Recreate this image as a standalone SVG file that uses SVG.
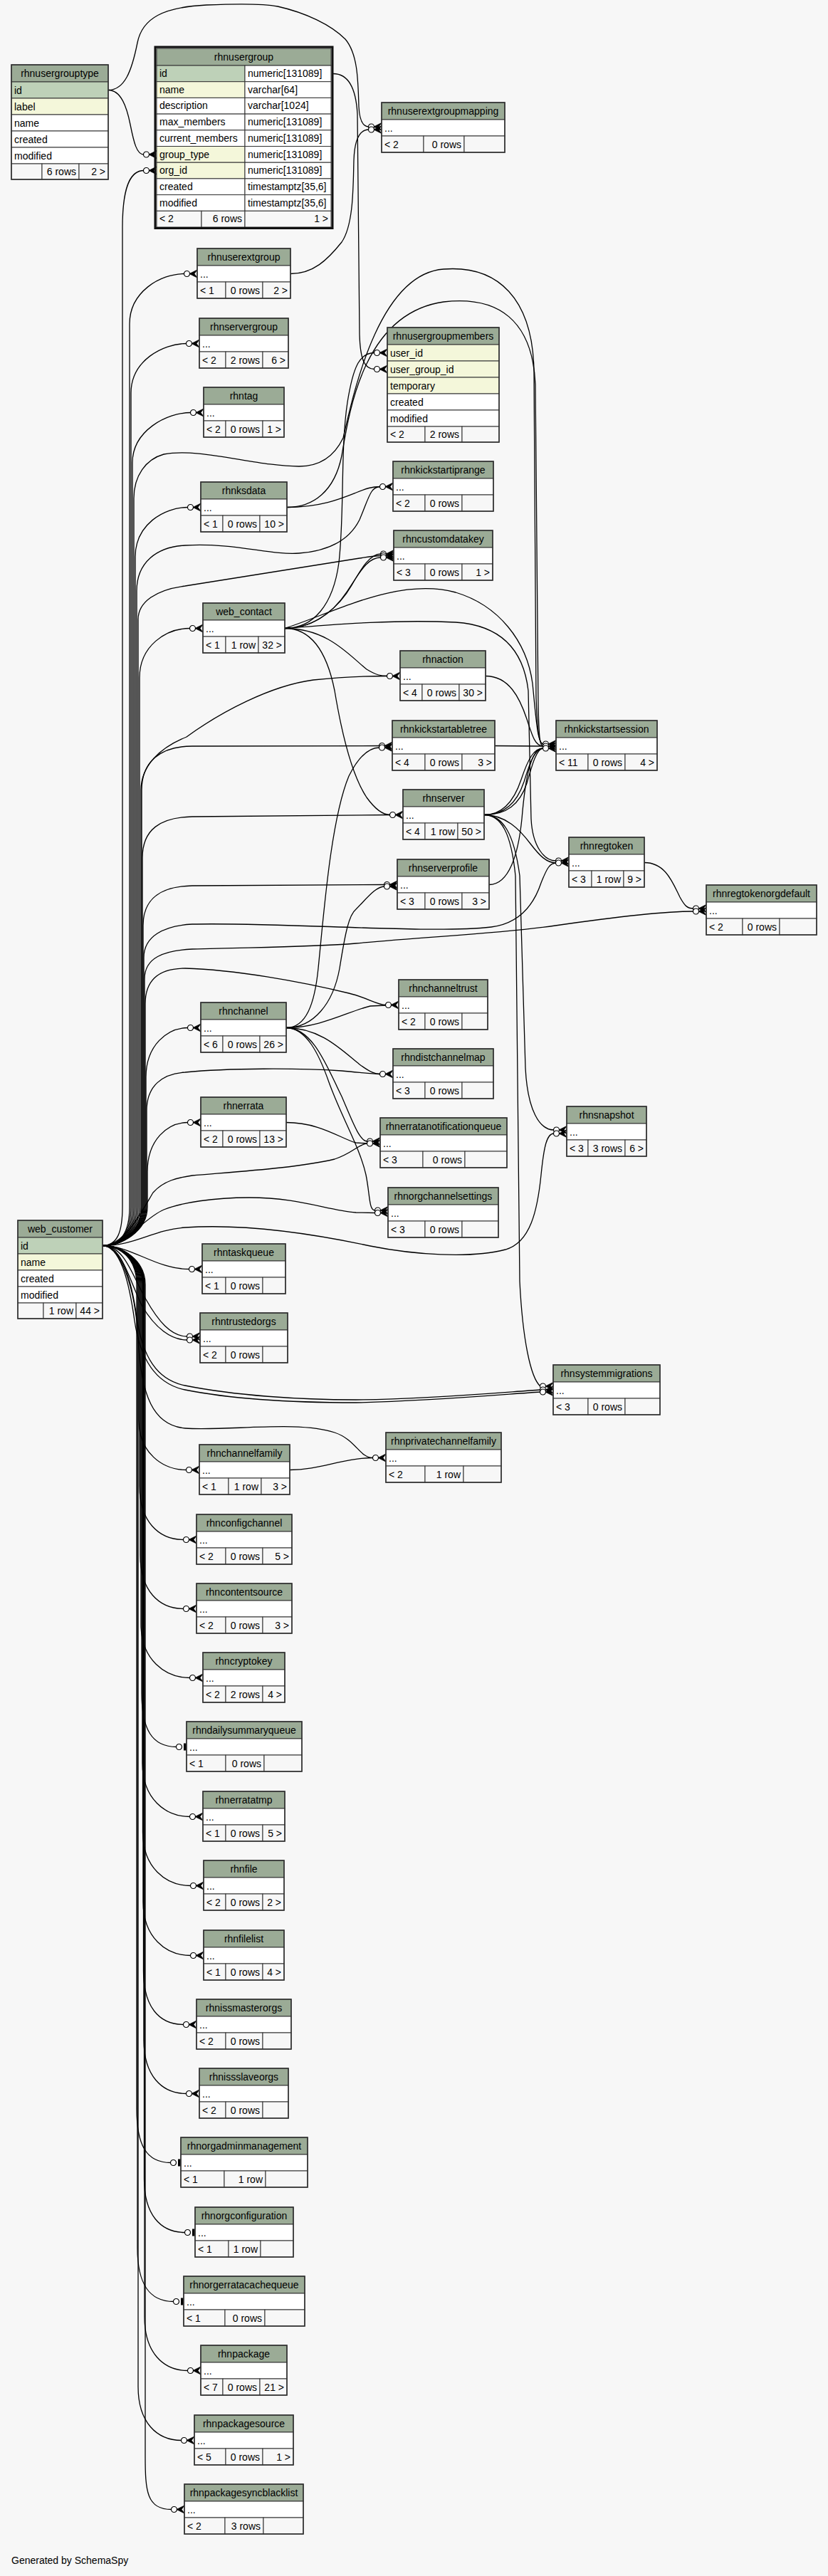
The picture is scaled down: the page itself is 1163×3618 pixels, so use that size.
<svg xmlns="http://www.w3.org/2000/svg" width="1163" height="3618" viewBox="0 0 1163 3618">
<style>
.h{fill:#9bab96;stroke:#333}
.p{fill:#bed1b8;stroke:#333}
.i{fill:#f4f7da;stroke:#333}
.w{fill:#fff;stroke:#333}
.f{fill:#f7f7f7;stroke:#333}
.o{fill:none;stroke:#333;stroke-width:1.6}
text{font-family:"Liberation Sans",Arial,Helvetica,sans-serif;font-size:14px;fill:#000}
.c{text-anchor:middle}
.r{text-anchor:end}
#edges path{fill:none;stroke:#000;stroke-width:1.3}
</style>
<defs>
<g id="m"><path d="M-11,0 L0,-5.5 L-4,0 L0,5.5 Z" fill="#000" stroke="#000" stroke-width="0.8"/><circle cx="-14.5" cy="0" r="4" fill="#fff" stroke="#000" stroke-width="1.2"/></g>
<g id="t"><rect x="-4" y="-5" width="3.5" height="10" fill="#000"/><circle cx="-10.5" cy="0" r="4" fill="#fff" stroke="#000" stroke-width="1.2"/></g>
</defs>
<rect x="0" y="0" width="1163" height="3618" fill="#f7f7f7"/>
<g id="edges">
<path d="M152,126.5 C170,126.5 178,150 183,175 C188,200 192,217 202,217"/>
<path d="M152,126.5 C175,126.5 185,100 193,60 C200,25 230,10 290,7 C340,5 370,5 390,9 C430,18 465,35 485,55 C502,75 503,110 504,150 C505,170 510,178 518,178"/>
<path d="M408,384.5 C440,384.5 460,365 480,340 C497,315 496,260 497,225 C498,195 505,182 518,182"/>
<path d="M468,103.5 C490,103.5 500,125 502,160 L505,470 C506,505 512,518.5 526,518.5"/>
<path d="M400,882.5 C440,882.5 468,850 476,790 C484,720 478,630 488,565 C496,515 505,495.5 526,495.5"/>
<path d="M400,882.5 C440,882.5 468,860 488,830 C505,805 515,783 535,783"/>
<path d="M400,882.5 C445,882.5 478,850 494,822 C508,797 520,778 535,778"/>
<path d="M400,882.5 C470,860 560,810 640,832 C700,850 740,900 748,960 C753,1010 755,1045 763,1045"/>
<path d="M400,882.5 C480,876 560,870 640,874 C700,878 735,910 742,970 L746,1150 C748,1190 765,1209 781,1209"/>
<path d="M400,882.5 C460,882.5 490,920 515,940 C528,948 535,949.5 544,949.5"/>
<path d="M400,882.5 C440,882.5 460,920 470,970 C480,1030 495,1090 515,1120 C528,1138 538,1144.5 548,1144.5"/>
<path d="M403,712.5 C450,712.5 480,700 500,692 C515,686 522,683.5 534,683.5"/>
<path d="M403,712.5 C440,712.5 470,690 480,640 C490,580 510,440 623,424 C700,415 748,450 752,540 L756,990 C757,1035 758,1048 763,1048"/>
<path d="M682,949.5 C715,949.5 730,980 740,1010 C748,1035 752,1048 763,1048"/>
<path d="M695,1047.5 L763,1048"/>
<path d="M680,1144.5 C705,1144.5 722,1125 732,1095 C742,1065 750,1051 763,1051"/>
<path d="M680,1144.5 C708,1144.5 726,1128 736,1098 C745,1068 752,1051 763,1051"/>
<path d="M680,1144.5 C711,1144.5 730,1130 740,1100 C748,1072 754,1051 763,1051"/>
<path d="M687,1242.5 C715,1242.5 728,1200 733,1150 C738,1090 746,1051 763,1051"/>
<path d="M680,1144.5 C710,1144.5 730,1165 745,1185 C758,1202 768,1212 781,1212"/>
<path d="M680,1144.5 C706,1144.5 722,1170 730,1230 L738,1500 C741,1560 758,1587 778,1587"/>
<path d="M680,1144.5 C704,1144.5 718,1170 724,1230 L730,1800 C734,1880 745,1935 759,1947"/>
<path d="M905,1211.5 C935,1211.5 945,1240 955,1260 C962,1273 966,1276 974,1276"/>
<path d="M402,1443.5 C450,1443.5 490,1420 520,1413 L542,1412"/>
<path d="M402,1443.5 C450,1443.5 480,1475 505,1495 C520,1506 527,1508.5 534,1508.5"/>
<path d="M402,1443.5 C440,1443.5 460,1500 480,1540 C495,1575 505,1603 516,1603"/>
<path d="M402,1443.5 C430,1443.5 448,1480 462,1520 C480,1570 505,1610 514,1650 C520,1680 518,1700 527,1700"/>
<path d="M402,1443.5 C430,1443.5 442,1410 447,1360 C455,1280 465,1150 490,1090 C505,1060 520,1050 533,1050"/>
<path d="M402,1443.5 C440,1443.5 468,1410 477,1360 C485,1310 490,1285 500,1277 C515,1262 528,1245 540,1245"/>
<path d="M402,1576.5 C450,1576.5 480,1600 500,1605 L516,1606"/>
<path d="M407,2064.5 C450,2064.5 480,2048 524,2047.5"/>
<path d="M144,1749.5 C165,1749.5 172,1730 172,1695 L172,320 C172,270 180,239.5 202,239.5"/>
<path d="M144,1749.5 C170,1749.5 182,1730 182,1695 L182,455 C182,410 225,384.5 259,384.5"/>
<path d="M144,1749.5 C170,1749.5 184,1730 184,1695 L184,552 C184,507 228,482.5 262,482.5"/>
<path d="M144,1749.5 C170,1749.5 186,1730 186,1695 L186,650 C186,605 234,579.5 268,579.5"/>
<path d="M144,1749.5 C170,1749.5 188,1730 188,1695 L188,700 C188,668 205,645 230,638 C280,628 360,655 420,655 C450,655 470,640 482,615 C495,560 530,385 623,378 C700,372 748,420 750,520 L753,980 C755,1030 757,1045 763,1045"/>
<path d="M144,1749.5 C170,1749.5 190,1730 190,1695 L190,782 C190,737 230,712.5 264,712.5"/>
<path d="M144,1749.5 C170,1749.5 192,1730 192,1695 L192,830 C192,790 220,768 260,766 C330,762 380,780 420,777 C460,774 490,760 505,730 C518,700 520,683.5 534,683.5"/>
<path d="M144,1749.5 C170,1749.5 194,1730 194,1695 L194,870 C194,845 220,828 260,823 L505,784 C518,782 526,780.5 535,780.5"/>
<path d="M144,1749.5 C170,1749.5 196,1730 196,1695 L196,952 C196,907 233,882.5 267,882.5"/>
<path d="M144,1749.5 C170,1749.5 198,1730 198,1695 L198,1110 C198,1075 225,1050 262,1035 C310,1000 380,963 440,955 C490,950 520,949.5 544,949.5"/>
<path d="M144,1749.5 C170,1749.5 199,1730 199,1695 L199,1110 C199,1070 225,1048 270,1048 L533,1047.5"/>
<path d="M144,1749.5 C170,1749.5 200,1730 200,1695 L200,1205 C200,1165 225,1148 270,1147 L548,1144.5"/>
<path d="M144,1749.5 C170,1749.5 201,1730 201,1695 L201,1300 C201,1262 225,1245 270,1244 L540,1242.5"/>
<path d="M144,1749.5 C170,1749.5 202,1730 202,1695 L202,1345 C202,1315 230,1300 270,1298 C400,1295 600,1312 690,1302 C730,1297 750,1270 760,1240 C768,1220 772,1212 781,1212"/>
<path d="M144,1749.5 C170,1749.5 203,1730 203,1695 L203,1375 C203,1345 230,1335 270,1333 C380,1330 440,1330 500,1325 C600,1315 700,1312 780,1300 C870,1287 930,1280 974,1280"/>
<path d="M144,1749.5 C170,1749.5 204,1730 204,1695 L204,1410 C204,1375 225,1360 260,1360 C330,1362 420,1378 490,1395 C515,1401 530,1411.5 542,1411.5"/>
<path d="M144,1749.5 C170,1749.5 205,1730 205,1695 L205,1513 C205,1468 235,1443.5 264,1443.5"/>
<path d="M144,1749.5 C170,1749.5 206,1730 206,1695 L206,1560 C206,1525 228,1508 260,1506 C320,1500 420,1500 480,1504 C505,1506 520,1508.5 534,1508.5"/>
<path d="M144,1749.5 C170,1749.5 207,1730 207,1695 L207,1646 C207,1601 235,1576.5 264,1576.5"/>
<path d="M144,1749.5 C175,1749.5 200,1700 215,1675 C230,1658 250,1654 270,1651 C340,1645 420,1640 470,1628 C495,1620 505,1606 516,1606"/>
<path d="M144,1749.5 C178,1749.5 200,1712 230,1699 C255,1689 300,1682 350,1682 C420,1682 460,1700 500,1703 L527,1703.5"/>
<path d="M144,1749.5 C190,1749.5 215,1727 260,1724 C350,1718 450,1735 520,1750 C580,1762 660,1768 710,1755 C745,1745 755,1700 760,1650 C764,1610 768,1592 778,1592"/>
<path d="M144,1749.5 C185,1749.5 218,1782.5 266,1782.5"/>
<path d="M144,1749.5 C175,1749.5 185,1790 205,1825 C222,1855 240,1877 263,1877"/>
<path d="M144,1749.5 C172,1749.5 182,1800 200,1835 C218,1865 240,1882 263,1882"/>
<path d="M144,1749.5 C172,1749.5 185,1800 192,1850 C200,1905 220,1938 260,1946 C330,1960 420,1966 500,1966 C600,1965 700,1956 759,1952"/>
<path d="M144,1749.5 C170,1749.5 182,1805 189,1855 C197,1910 220,1944 260,1952 C330,1966 420,1970 500,1970 C600,1968 700,1959 759,1955"/>
<path d="M144,1749.5 C170,1749.5 190,1810 194,1880 C198,1960 215,2002 260,2006 C320,2010 420,1995 470,2012 C500,2022 505,2047.5 524,2047.5"/>
<path d="M144,1749.5 C170,1749.5 195,1769 195,1804 L195,1995 C195,2040 228,2064.5 262,2064.5"/>
<path d="M144,1749.5 C170,1749.5 196,1769 196,1804 L196,2087 C196,2137 223,2162.5 258,2162.5"/>
<path d="M144,1749.5 C170,1749.5 197,1769 197,1804 L197,2184 C197,2234 223,2259.5 258,2259.5"/>
<path d="M144,1749.5 C170,1749.5 198,1769 198,1804 L198,2281 C198,2331 232,2356.5 267,2356.5"/>
<path d="M144,1749.5 C170,1749.5 199,1769 199,1804 L199,2378 C199,2428 213,2453.5 248,2453.5"/>
<path d="M144,1749.5 C170,1749.5 200,1769 200,1804 L200,2476 C200,2526 232,2551.5 267,2551.5"/>
<path d="M144,1749.5 C170,1749.5 200.5,1769 200.5,1804 L200.5,2573 C200.5,2623 233,2648.5 268,2648.5"/>
<path d="M144,1749.5 C170,1749.5 201,1769 201,1804 L201,2671 C201,2721 233,2746.5 268,2746.5"/>
<path d="M144,1749.5 C170,1749.5 201.5,1769 201.5,1804 L201.5,2768 C201.5,2818 223,2843.5 258,2843.5"/>
<path d="M144,1749.5 C170,1749.5 202,1769 202,1804 L202,2865 C202,2915 227,2940.5 262,2940.5"/>
<path d="M144,1749.5 C170,1749.5 192,1769 192,1804 L192,2962 C192,3012 205,3037.5 240,3037.5"/>
<path d="M144,1749.5 C170,1749.5 202.5,1769 202.5,1804 L202.5,3060 C202.5,3110 225,3135.5 260,3135.5"/>
<path d="M144,1749.5 C170,1749.5 193,1769 193,1804 L193,3157 C193,3207 209,3232.5 244,3232.5"/>
<path d="M144,1749.5 C170,1749.5 203,1769 203,1804 L203,3254 C203,3304 229,3329.5 264,3329.5"/>
<path d="M144,1749.5 C170,1749.5 194,1769 194,1804 L194,3352 C194,3402 220,3427.5 255,3427.5"/>
<path d="M144,1749.5 C170,1749.5 204,1769 204,1804 L204,3449 C204,3499 206,3524.5 241,3524.5"/>
<use href="#m" x="536" y="178"/><use href="#m" x="536" y="182"/>
<use href="#m" x="220" y="217"/><use href="#m" x="220" y="239.5"/>
<use href="#m" x="544" y="495.5"/><use href="#m" x="544" y="518.5"/>
<use href="#m" x="277" y="384.5"/><use href="#m" x="280" y="482.5"/><use href="#m" x="286" y="579.5"/><use href="#m" x="282" y="712.5"/><use href="#m" x="285" y="882.5"/>
<use href="#m" x="552" y="683.5"/>
<use href="#m" x="553" y="778"/><use href="#m" x="553" y="780.5"/><use href="#m" x="553" y="783"/>
<use href="#m" x="562" y="949.5"/>
<use href="#m" x="551" y="1047.5"/><use href="#m" x="551" y="1050"/>
<use href="#m" x="781" y="1045"/><use href="#m" x="781" y="1048"/><use href="#m" x="781" y="1051"/>
<use href="#m" x="566" y="1144.5"/>
<use href="#m" x="558" y="1242.5"/><use href="#m" x="558" y="1245"/>
<use href="#m" x="799" y="1209"/><use href="#m" x="799" y="1212"/>
<use href="#m" x="992" y="1276"/><use href="#m" x="992" y="1280"/>
<use href="#m" x="560" y="1411.5"/>
<use href="#m" x="282" y="1443.5"/>
<use href="#m" x="552" y="1508.5"/>
<use href="#m" x="282" y="1576.5"/>
<use href="#m" x="534" y="1603"/><use href="#m" x="534" y="1606"/>
<use href="#m" x="796" y="1587"/><use href="#m" x="796" y="1592"/>
<use href="#m" x="545" y="1700"/><use href="#m" x="545" y="1703.5"/>
<use href="#m" x="284" y="1782.5"/>
<use href="#m" x="281" y="1877"/><use href="#m" x="281" y="1882"/>
<use href="#m" x="777" y="1947"/><use href="#m" x="777" y="1952"/><use href="#m" x="777" y="1955"/>
<use href="#m" x="542" y="2047.5"/>
<use href="#m" x="280" y="2064.5"/>
<use href="#m" x="276" y="2162.5"/>
<use href="#m" x="276" y="2259.5"/>
<use href="#m" x="285" y="2356.5"/>
<use href="#t" x="262" y="2453.5"/>
<use href="#m" x="285" y="2551.5"/>
<use href="#m" x="286" y="2648.5"/>
<use href="#m" x="286" y="2746.5"/>
<use href="#m" x="276" y="2843.5"/>
<use href="#m" x="280" y="2940.5"/>
<use href="#t" x="254" y="3037.5"/>
<use href="#t" x="274" y="3135.5"/>
<use href="#t" x="258" y="3232.5"/>
<use href="#m" x="282" y="3329.5"/>
<use href="#m" x="273" y="3427.5"/>
<use href="#m" x="259" y="3524.5"/>
</g>

<g id="rhnusergrouptype">
<rect class="h" x="16" y="91" width="136" height="24"/><text class="c" x="84" y="107.5">rhnusergrouptype</text>
<rect class="p" x="16" y="115" width="136" height="23"/><text x="20" y="131.5">id</text>
<rect class="i" x="16" y="138" width="136" height="23"/><text x="20" y="154.5">label</text>
<rect class="w" x="16" y="161" width="136" height="23"/><text x="20" y="177.5">name</text>
<rect class="w" x="16" y="184" width="136" height="23"/><text x="20" y="200.5">created</text>
<rect class="w" x="16" y="207" width="136" height="23"/><text x="20" y="223.5">modified</text>
<rect class="f" x="16" y="230" width="43" height="22"/><rect class="f" x="59" y="230" width="52" height="22"/><rect class="f" x="111" y="230" width="41" height="22"/>
<text class="r" x="107" y="246">6 rows</text><text class="r" x="148" y="246">2 &gt;</text>
<rect class="o" x="16" y="91" width="136" height="161"/>
</g>

<g id="rhnusergroup">
<rect class="h" x="220" y="68" width="245" height="24"/><text class="c" x="342.5" y="84.5">rhnusergroup</text>
<rect class="p" x="220" y="92" width="124" height="22.7"/><rect class="w" x="344" y="92" width="121" height="22.7"/>
<text x="224" y="108">id</text><text x="348" y="108">numeric[131089]</text>
<rect class="i" x="220" y="114.7" width="124" height="22.7"/><rect class="w" x="344" y="114.7" width="121" height="22.7"/>
<text x="224" y="130.7">name</text><text x="348" y="130.7">varchar[64]</text>
<rect class="w" x="220" y="137.4" width="124" height="22.7"/><rect class="w" x="344" y="137.4" width="121" height="22.7"/>
<text x="224" y="153.4">description</text><text x="348" y="153.4">varchar[1024]</text>
<rect class="w" x="220" y="160.1" width="124" height="22.7"/><rect class="w" x="344" y="160.1" width="121" height="22.7"/>
<text x="224" y="176.1">max_members</text><text x="348" y="176.1">numeric[131089]</text>
<rect class="w" x="220" y="182.8" width="124" height="22.7"/><rect class="w" x="344" y="182.8" width="121" height="22.7"/>
<text x="224" y="198.8">current_members</text><text x="348" y="198.8">numeric[131089]</text>
<rect class="i" x="220" y="205.5" width="124" height="22.7"/><rect class="w" x="344" y="205.5" width="121" height="22.7"/>
<text x="224" y="221.5">group_type</text><text x="348" y="221.5">numeric[131089]</text>
<rect class="i" x="220" y="228.2" width="124" height="22.7"/><rect class="w" x="344" y="228.2" width="121" height="22.7"/>
<text x="224" y="244.2">org_id</text><text x="348" y="244.2">numeric[131089]</text>
<rect class="w" x="220" y="250.9" width="124" height="22.7"/><rect class="w" x="344" y="250.9" width="121" height="22.7"/>
<text x="224" y="266.9">created</text><text x="348" y="266.9">timestamptz[35,6]</text>
<rect class="w" x="220" y="273.6" width="124" height="22.7"/><rect class="w" x="344" y="273.6" width="121" height="22.7"/>
<text x="224" y="289.6">modified</text><text x="348" y="289.6">timestamptz[35,6]</text>
<rect class="f" x="220" y="296.3" width="63" height="22.7"/><rect class="f" x="283" y="296.3" width="61" height="22.7"/><rect class="f" x="344" y="296.3" width="121" height="22.7"/>
<text x="224" y="312.3">&lt; 2</text><text class="r" x="340" y="312.3">6 rows</text><text class="r" x="461" y="312.3">1 &gt;</text>
<rect x="218" y="66" width="249" height="254.5" fill="none" stroke="#111" stroke-width="3"/>
</g>

<g id="rhnusergroupmembers">
<rect class="h" x="544" y="460" width="157" height="24"/><text class="c" x="622.5" y="476.5">rhnusergroupmembers</text>
<rect class="i" x="544" y="484" width="157" height="23"/><text x="548" y="500.5">user_id</text>
<rect class="i" x="544" y="507" width="157" height="23"/><text x="548" y="523.5">user_group_id</text>
<rect class="i" x="544" y="530" width="157" height="23"/><text x="548" y="546.5">temporary</text>
<rect class="w" x="544" y="553" width="157" height="23"/><text x="548" y="569.5">created</text>
<rect class="w" x="544" y="576" width="157" height="23"/><text x="548" y="592.5">modified</text>
<rect class="f" x="544" y="599" width="53" height="22"/><rect class="f" x="597" y="599" width="52" height="22"/><rect class="f" x="649" y="599" width="52" height="22"/>
<text x="548" y="615">&lt; 2</text><text class="r" x="645" y="615">2 rows</text>
<rect class="o" x="544" y="460" width="157" height="161"/>
</g>

<g id="web_customer">
<rect class="h" x="25" y="1714" width="119" height="24"/><text class="c" x="84.5" y="1730.5">web_customer</text>
<rect class="p" x="25" y="1738" width="119" height="23"/><text x="29" y="1754.5">id</text>
<rect class="i" x="25" y="1761" width="119" height="23"/><text x="29" y="1777.5">name</text>
<rect class="w" x="25" y="1784" width="119" height="23"/><text x="29" y="1800.5">created</text>
<rect class="w" x="25" y="1807" width="119" height="23"/><text x="29" y="1823.5">modified</text>
<rect class="f" x="25" y="1830" width="36" height="22"/><rect class="f" x="61" y="1830" width="46" height="22"/><rect class="f" x="107" y="1830" width="37" height="22"/>
<text class="r" x="103" y="1846">1 row</text><text class="r" x="140" y="1846">44 &gt;</text>
<rect class="o" x="25" y="1714" width="119" height="138"/>
</g>

<g id="rhnuserextgroupmapping">
<rect class="h" x="536" y="144" width="173" height="24"/><text class="c" x="622.5" y="160.5">rhnuserextgroupmapping</text>
<rect class="w" x="536" y="168" width="173" height="23"/><text x="540" y="184.5">...</text>
<rect class="f" x="536" y="191" width="59" height="23"/><rect class="f" x="595" y="191" width="57" height="23"/><rect class="f" x="652" y="191" width="57" height="23"/>
<text x="540" y="207.5">&lt; 2</text><text class="r" x="648" y="207.5">0 rows</text>
<rect class="o" x="536" y="144" width="173" height="70"/>
</g>

<g id="rhnuserextgroup">
<rect class="h" x="277" y="349" width="131" height="24"/><text class="c" x="342.5" y="365.5">rhnuserextgroup</text>
<rect class="w" x="277" y="373" width="131" height="23"/><text x="281" y="389.5">...</text>
<rect class="f" x="277" y="396" width="40" height="23"/><rect class="f" x="317" y="396" width="52" height="23"/><rect class="f" x="369" y="396" width="39" height="23"/>
<text x="281" y="412.5">&lt; 1</text><text class="r" x="365" y="412.5">0 rows</text><text class="r" x="404" y="412.5">2 &gt;</text>
<rect class="o" x="277" y="349" width="131" height="70"/>
</g>

<g id="rhnservergroup">
<rect class="h" x="280" y="447" width="125" height="24"/><text class="c" x="342.5" y="463.5">rhnservergroup</text>
<rect class="w" x="280" y="471" width="125" height="23"/><text x="284" y="487.5">...</text>
<rect class="f" x="280" y="494" width="37" height="23"/><rect class="f" x="317" y="494" width="52" height="23"/><rect class="f" x="369" y="494" width="36" height="23"/>
<text x="284" y="510.5">&lt; 2</text><text class="r" x="365" y="510.5">2 rows</text><text class="r" x="401" y="510.5">6 &gt;</text>
<rect class="o" x="280" y="447" width="125" height="70"/>
</g>

<g id="rhntag">
<rect class="h" x="286" y="544" width="113" height="24"/><text class="c" x="342.5" y="560.5">rhntag</text>
<rect class="w" x="286" y="568" width="113" height="23"/><text x="290" y="584.5">...</text>
<rect class="f" x="286" y="591" width="31" height="23"/><rect class="f" x="317" y="591" width="52" height="23"/><rect class="f" x="369" y="591" width="30" height="23"/>
<text x="290" y="607.5">&lt; 2</text><text class="r" x="365" y="607.5">0 rows</text><text class="r" x="395" y="607.5">1 &gt;</text>
<rect class="o" x="286" y="544" width="113" height="70"/>
</g>

<g id="rhnksdata">
<rect class="h" x="282" y="677" width="121" height="24"/><text class="c" x="342.5" y="693.5">rhnksdata</text>
<rect class="w" x="282" y="701" width="121" height="23"/><text x="286" y="717.5">...</text>
<rect class="f" x="282" y="724" width="31" height="23"/><rect class="f" x="313" y="724" width="52" height="23"/><rect class="f" x="365" y="724" width="38" height="23"/>
<text x="286" y="740.5">&lt; 1</text><text class="r" x="361" y="740.5">0 rows</text><text class="r" x="399" y="740.5">10 &gt;</text>
<rect class="o" x="282" y="677" width="121" height="70"/>
</g>

<g id="rhnkickstartiprange">
<rect class="h" x="552" y="648" width="141" height="24"/><text class="c" x="622.5" y="664.5">rhnkickstartiprange</text>
<rect class="w" x="552" y="672" width="141" height="23"/><text x="556" y="688.5">...</text>
<rect class="f" x="552" y="695" width="45" height="23"/><rect class="f" x="597" y="695" width="52" height="23"/><rect class="f" x="649" y="695" width="44" height="23"/>
<text x="556" y="711.5">&lt; 2</text><text class="r" x="645" y="711.5">0 rows</text>
<rect class="o" x="552" y="648" width="141" height="70"/>
</g>

<g id="rhncustomdatakey">
<rect class="h" x="553" y="745" width="139" height="24"/><text class="c" x="622.5" y="761.5">rhncustomdatakey</text>
<rect class="w" x="553" y="769" width="139" height="23"/><text x="557" y="785.5">...</text>
<rect class="f" x="553" y="792" width="44" height="23"/><rect class="f" x="597" y="792" width="52" height="23"/><rect class="f" x="649" y="792" width="43" height="23"/>
<text x="557" y="808.5">&lt; 3</text><text class="r" x="645" y="808.5">0 rows</text><text class="r" x="688" y="808.5">1 &gt;</text>
<rect class="o" x="553" y="745" width="139" height="70"/>
</g>

<g id="web_contact">
<rect class="h" x="285" y="847" width="115" height="24"/><text class="c" x="342.5" y="863.5">web_contact</text>
<rect class="w" x="285" y="871" width="115" height="23"/><text x="289" y="887.5">...</text>
<rect class="f" x="285" y="894" width="32" height="23"/><rect class="f" x="317" y="894" width="46" height="23"/><rect class="f" x="363" y="894" width="37" height="23"/>
<text x="289" y="910.5">&lt; 1</text><text class="r" x="359" y="910.5">1 row</text><text class="r" x="396" y="910.5">32 &gt;</text>
<rect class="o" x="285" y="847" width="115" height="70"/>
</g>

<g id="rhnaction">
<rect class="h" x="562" y="914" width="120" height="24"/><text class="c" x="622" y="930.5">rhnaction</text>
<rect class="w" x="562" y="938" width="120" height="23"/><text x="566" y="954.5">...</text>
<rect class="f" x="562" y="961" width="31" height="23"/><rect class="f" x="593" y="961" width="52" height="23"/><rect class="f" x="645" y="961" width="37" height="23"/>
<text x="566" y="977.5">&lt; 4</text><text class="r" x="641" y="977.5">0 rows</text><text class="r" x="678" y="977.5">30 &gt;</text>
<rect class="o" x="562" y="914" width="120" height="70"/>
</g>

<g id="rhnkickstartabletree">
<rect class="h" x="551" y="1012" width="144" height="24"/><text class="c" x="623" y="1028.5">rhnkickstartabletree</text>
<rect class="w" x="551" y="1036" width="144" height="23"/><text x="555" y="1052.5">...</text>
<rect class="f" x="551" y="1059" width="46" height="23"/><rect class="f" x="597" y="1059" width="52" height="23"/><rect class="f" x="649" y="1059" width="46" height="23"/>
<text x="555" y="1075.5">&lt; 4</text><text class="r" x="645" y="1075.5">0 rows</text><text class="r" x="691" y="1075.5">3 &gt;</text>
<rect class="o" x="551" y="1012" width="144" height="70"/>
</g>

<g id="rhnkickstartsession">
<rect class="h" x="781" y="1012" width="142" height="24"/><text class="c" x="852" y="1028.5">rhnkickstartsession</text>
<rect class="w" x="781" y="1036" width="142" height="23"/><text x="785" y="1052.5">...</text>
<rect class="f" x="781" y="1059" width="45" height="23"/><rect class="f" x="826" y="1059" width="52" height="23"/><rect class="f" x="878" y="1059" width="45" height="23"/>
<text x="785" y="1075.5">&lt; 11</text><text class="r" x="874" y="1075.5">0 rows</text><text class="r" x="919" y="1075.5">4 &gt;</text>
<rect class="o" x="781" y="1012" width="142" height="70"/>
</g>

<g id="rhnserver">
<rect class="h" x="566" y="1109" width="114" height="24"/><text class="c" x="623" y="1125.5">rhnserver</text>
<rect class="w" x="566" y="1133" width="114" height="23"/><text x="570" y="1149.5">...</text>
<rect class="f" x="566" y="1156" width="31" height="23"/><rect class="f" x="597" y="1156" width="46" height="23"/><rect class="f" x="643" y="1156" width="37" height="23"/>
<text x="570" y="1172.5">&lt; 4</text><text class="r" x="639" y="1172.5">1 row</text><text class="r" x="676" y="1172.5">50 &gt;</text>
<rect class="o" x="566" y="1109" width="114" height="70"/>
</g>

<g id="rhnserverprofile">
<rect class="h" x="558" y="1207" width="129" height="24"/><text class="c" x="622.5" y="1223.5">rhnserverprofile</text>
<rect class="w" x="558" y="1231" width="129" height="23"/><text x="562" y="1247.5">...</text>
<rect class="f" x="558" y="1254" width="39" height="23"/><rect class="f" x="597" y="1254" width="52" height="23"/><rect class="f" x="649" y="1254" width="38" height="23"/>
<text x="562" y="1270.5">&lt; 3</text><text class="r" x="645" y="1270.5">0 rows</text><text class="r" x="683" y="1270.5">3 &gt;</text>
<rect class="o" x="558" y="1207" width="129" height="70"/>
</g>

<g id="rhnregtoken">
<rect class="h" x="799" y="1176" width="106" height="24"/><text class="c" x="852" y="1192.5">rhnregtoken</text>
<rect class="w" x="799" y="1200" width="106" height="23"/><text x="803" y="1216.5">...</text>
<rect class="f" x="799" y="1223" width="32" height="23"/><rect class="f" x="831" y="1223" width="45" height="23"/><rect class="f" x="876" y="1223" width="29" height="23"/>
<text x="803" y="1239.5">&lt; 3</text><text class="r" x="872" y="1239.5">1 row</text><text class="r" x="901" y="1239.5">9 &gt;</text>
<rect class="o" x="799" y="1176" width="106" height="70"/>
</g>

<g id="rhnregtokenorgdefault">
<rect class="h" x="992" y="1243" width="155" height="24"/><text class="c" x="1069.5" y="1259.5">rhnregtokenorgdefault</text>
<rect class="w" x="992" y="1267" width="155" height="23"/><text x="996" y="1283.5">...</text>
<rect class="f" x="992" y="1290" width="51" height="23"/><rect class="f" x="1043" y="1290" width="52" height="23"/><rect class="f" x="1095" y="1290" width="52" height="23"/>
<text x="996" y="1306.5">&lt; 2</text><text class="r" x="1091" y="1306.5">0 rows</text>
<rect class="o" x="992" y="1243" width="155" height="70"/>
</g>

<g id="rhnchanneltrust">
<rect class="h" x="560" y="1376" width="125" height="24"/><text class="c" x="622.5" y="1392.5">rhnchanneltrust</text>
<rect class="w" x="560" y="1400" width="125" height="23"/><text x="564" y="1416.5">...</text>
<rect class="f" x="560" y="1423" width="37" height="23"/><rect class="f" x="597" y="1423" width="52" height="23"/><rect class="f" x="649" y="1423" width="36" height="23"/>
<text x="564" y="1439.5">&lt; 2</text><text class="r" x="645" y="1439.5">0 rows</text>
<rect class="o" x="560" y="1376" width="125" height="70"/>
</g>

<g id="rhnchannel">
<rect class="h" x="282" y="1408" width="120" height="24"/><text class="c" x="342" y="1424.5">rhnchannel</text>
<rect class="w" x="282" y="1432" width="120" height="23"/><text x="286" y="1448.5">...</text>
<rect class="f" x="282" y="1455" width="31" height="23"/><rect class="f" x="313" y="1455" width="52" height="23"/><rect class="f" x="365" y="1455" width="37" height="23"/>
<text x="286" y="1471.5">&lt; 6</text><text class="r" x="361" y="1471.5">0 rows</text><text class="r" x="398" y="1471.5">26 &gt;</text>
<rect class="o" x="282" y="1408" width="120" height="70"/>
</g>

<g id="rhndistchannelmap">
<rect class="h" x="552" y="1473" width="141" height="24"/><text class="c" x="622.5" y="1489.5">rhndistchannelmap</text>
<rect class="w" x="552" y="1497" width="141" height="23"/><text x="556" y="1513.5">...</text>
<rect class="f" x="552" y="1520" width="45" height="23"/><rect class="f" x="597" y="1520" width="52" height="23"/><rect class="f" x="649" y="1520" width="44" height="23"/>
<text x="556" y="1536.5">&lt; 3</text><text class="r" x="645" y="1536.5">0 rows</text>
<rect class="o" x="552" y="1473" width="141" height="70"/>
</g>

<g id="rhnerrata">
<rect class="h" x="282" y="1541" width="120" height="24"/><text class="c" x="342" y="1557.5">rhnerrata</text>
<rect class="w" x="282" y="1565" width="120" height="23"/><text x="286" y="1581.5">...</text>
<rect class="f" x="282" y="1588" width="31" height="23"/><rect class="f" x="313" y="1588" width="52" height="23"/><rect class="f" x="365" y="1588" width="37" height="23"/>
<text x="286" y="1604.5">&lt; 2</text><text class="r" x="361" y="1604.5">0 rows</text><text class="r" x="398" y="1604.5">13 &gt;</text>
<rect class="o" x="282" y="1541" width="120" height="70"/>
</g>

<g id="rhnerratanotificationqueue">
<rect class="h" x="534" y="1570" width="178" height="24"/><text class="c" x="623" y="1586.5">rhnerratanotificationqueue</text>
<rect class="w" x="534" y="1594" width="178" height="23"/><text x="538" y="1610.5">...</text>
<rect class="f" x="534" y="1617" width="60" height="23"/><rect class="f" x="594" y="1617" width="59" height="23"/><rect class="f" x="653" y="1617" width="59" height="23"/>
<text x="538" y="1633.5">&lt; 3</text><text class="r" x="649" y="1633.5">0 rows</text>
<rect class="o" x="534" y="1570" width="178" height="70"/>
</g>

<g id="rhnsnapshot">
<rect class="h" x="796" y="1554" width="112" height="24"/><text class="c" x="852" y="1570.5">rhnsnapshot</text>
<rect class="w" x="796" y="1578" width="112" height="23"/><text x="800" y="1594.5">...</text>
<rect class="f" x="796" y="1601" width="30" height="23"/><rect class="f" x="826" y="1601" width="52" height="23"/><rect class="f" x="878" y="1601" width="30" height="23"/>
<text x="800" y="1617.5">&lt; 3</text><text class="r" x="874" y="1617.5">3 rows</text><text class="r" x="904" y="1617.5">6 &gt;</text>
<rect class="o" x="796" y="1554" width="112" height="70"/>
</g>

<g id="rhnorgchannelsettings">
<rect class="h" x="545" y="1668" width="155" height="24"/><text class="c" x="622.5" y="1684.5">rhnorgchannelsettings</text>
<rect class="w" x="545" y="1692" width="155" height="23"/><text x="549" y="1708.5">...</text>
<rect class="f" x="545" y="1715" width="52" height="23"/><rect class="f" x="597" y="1715" width="52" height="23"/><rect class="f" x="649" y="1715" width="51" height="23"/>
<text x="549" y="1731.5">&lt; 3</text><text class="r" x="645" y="1731.5">0 rows</text>
<rect class="o" x="545" y="1668" width="155" height="70"/>
</g>

<g id="rhntaskqueue">
<rect class="h" x="284" y="1747" width="117" height="24"/><text class="c" x="342.5" y="1763.5">rhntaskqueue</text>
<rect class="w" x="284" y="1771" width="117" height="23"/><text x="288" y="1787.5">...</text>
<rect class="f" x="284" y="1794" width="33" height="23"/><rect class="f" x="317" y="1794" width="52" height="23"/><rect class="f" x="369" y="1794" width="32" height="23"/>
<text x="288" y="1810.5">&lt; 1</text><text class="r" x="365" y="1810.5">0 rows</text>
<rect class="o" x="284" y="1747" width="117" height="70"/>
</g>

<g id="rhntrustedorgs">
<rect class="h" x="281" y="1844" width="123" height="24"/><text class="c" x="342.5" y="1860.5">rhntrustedorgs</text>
<rect class="w" x="281" y="1868" width="123" height="23"/><text x="285" y="1884.5">...</text>
<rect class="f" x="281" y="1891" width="36" height="23"/><rect class="f" x="317" y="1891" width="52" height="23"/><rect class="f" x="369" y="1891" width="35" height="23"/>
<text x="285" y="1907.5">&lt; 2</text><text class="r" x="365" y="1907.5">0 rows</text>
<rect class="o" x="281" y="1844" width="123" height="70"/>
</g>

<g id="rhnsystemmigrations">
<rect class="h" x="777" y="1917" width="150" height="24"/><text class="c" x="852" y="1933.5">rhnsystemmigrations</text>
<rect class="w" x="777" y="1941" width="150" height="23"/><text x="781" y="1957.5">...</text>
<rect class="f" x="777" y="1964" width="49" height="23"/><rect class="f" x="826" y="1964" width="52" height="23"/><rect class="f" x="878" y="1964" width="49" height="23"/>
<text x="781" y="1980.5">&lt; 3</text><text class="r" x="874" y="1980.5">0 rows</text>
<rect class="o" x="777" y="1917" width="150" height="70"/>
</g>

<g id="rhnprivatechannelfamily">
<rect class="h" x="542" y="2012" width="162" height="24"/><text class="c" x="623" y="2028.5">rhnprivatechannelfamily</text>
<rect class="w" x="542" y="2036" width="162" height="23"/><text x="546" y="2052.5">...</text>
<rect class="f" x="542" y="2059" width="55" height="23"/><rect class="f" x="597" y="2059" width="54" height="23"/><rect class="f" x="651" y="2059" width="53" height="23"/>
<text x="546" y="2075.5">&lt; 2</text><text class="r" x="647" y="2075.5">1 row</text>
<rect class="o" x="542" y="2012" width="162" height="70"/>
</g>

<g id="rhnchannelfamily">
<rect class="h" x="280" y="2029" width="127" height="24"/><text class="c" x="343.5" y="2045.5">rhnchannelfamily</text>
<rect class="w" x="280" y="2053" width="127" height="23"/><text x="284" y="2069.5">...</text>
<rect class="f" x="280" y="2076" width="41" height="23"/><rect class="f" x="321" y="2076" width="46" height="23"/><rect class="f" x="367" y="2076" width="40" height="23"/>
<text x="284" y="2092.5">&lt; 1</text><text class="r" x="363" y="2092.5">1 row</text><text class="r" x="403" y="2092.5">3 &gt;</text>
<rect class="o" x="280" y="2029" width="127" height="70"/>
</g>

<g id="rhnconfigchannel">
<rect class="h" x="276" y="2127" width="134" height="24"/><text class="c" x="343" y="2143.5">rhnconfigchannel</text>
<rect class="w" x="276" y="2151" width="134" height="23"/><text x="280" y="2167.5">...</text>
<rect class="f" x="276" y="2174" width="41" height="23"/><rect class="f" x="317" y="2174" width="52" height="23"/><rect class="f" x="369" y="2174" width="41" height="23"/>
<text x="280" y="2190.5">&lt; 2</text><text class="r" x="365" y="2190.5">0 rows</text><text class="r" x="406" y="2190.5">5 &gt;</text>
<rect class="o" x="276" y="2127" width="134" height="70"/>
</g>

<g id="rhncontentsource">
<rect class="h" x="276" y="2224" width="134" height="24"/><text class="c" x="343" y="2240.5">rhncontentsource</text>
<rect class="w" x="276" y="2248" width="134" height="23"/><text x="280" y="2264.5">...</text>
<rect class="f" x="276" y="2271" width="41" height="23"/><rect class="f" x="317" y="2271" width="52" height="23"/><rect class="f" x="369" y="2271" width="41" height="23"/>
<text x="280" y="2287.5">&lt; 2</text><text class="r" x="365" y="2287.5">0 rows</text><text class="r" x="406" y="2287.5">3 &gt;</text>
<rect class="o" x="276" y="2224" width="134" height="70"/>
</g>

<g id="rhncryptokey">
<rect class="h" x="285" y="2321" width="115" height="24"/><text class="c" x="342.5" y="2337.5">rhncryptokey</text>
<rect class="w" x="285" y="2345" width="115" height="23"/><text x="289" y="2361.5">...</text>
<rect class="f" x="285" y="2368" width="32" height="23"/><rect class="f" x="317" y="2368" width="52" height="23"/><rect class="f" x="369" y="2368" width="31" height="23"/>
<text x="289" y="2384.5">&lt; 2</text><text class="r" x="365" y="2384.5">2 rows</text><text class="r" x="396" y="2384.5">4 &gt;</text>
<rect class="o" x="285" y="2321" width="115" height="70"/>
</g>

<g id="rhndailysummaryqueue">
<rect class="h" x="262" y="2418" width="162" height="24"/><text class="c" x="343" y="2434.5">rhndailysummaryqueue</text>
<rect class="w" x="262" y="2442" width="162" height="23"/><text x="266" y="2458.5">...</text>
<rect class="f" x="262" y="2465" width="55" height="23"/><rect class="f" x="317" y="2465" width="54" height="23"/><rect class="f" x="371" y="2465" width="53" height="23"/>
<text x="266" y="2481.5">&lt; 1</text><text class="r" x="367" y="2481.5">0 rows</text>
<rect class="o" x="262" y="2418" width="162" height="70"/>
</g>

<g id="rhnerratatmp">
<rect class="h" x="285" y="2516" width="115" height="24"/><text class="c" x="342.5" y="2532.5">rhnerratatmp</text>
<rect class="w" x="285" y="2540" width="115" height="23"/><text x="289" y="2556.5">...</text>
<rect class="f" x="285" y="2563" width="32" height="23"/><rect class="f" x="317" y="2563" width="52" height="23"/><rect class="f" x="369" y="2563" width="31" height="23"/>
<text x="289" y="2579.5">&lt; 1</text><text class="r" x="365" y="2579.5">0 rows</text><text class="r" x="396" y="2579.5">5 &gt;</text>
<rect class="o" x="285" y="2516" width="115" height="70"/>
</g>

<g id="rhnfile">
<rect class="h" x="286" y="2613" width="113" height="24"/><text class="c" x="342.5" y="2629.5">rhnfile</text>
<rect class="w" x="286" y="2637" width="113" height="23"/><text x="290" y="2653.5">...</text>
<rect class="f" x="286" y="2660" width="31" height="23"/><rect class="f" x="317" y="2660" width="52" height="23"/><rect class="f" x="369" y="2660" width="30" height="23"/>
<text x="290" y="2676.5">&lt; 2</text><text class="r" x="365" y="2676.5">0 rows</text><text class="r" x="395" y="2676.5">2 &gt;</text>
<rect class="o" x="286" y="2613" width="113" height="70"/>
</g>

<g id="rhnfilelist">
<rect class="h" x="286" y="2711" width="113" height="24"/><text class="c" x="342.5" y="2727.5">rhnfilelist</text>
<rect class="w" x="286" y="2735" width="113" height="23"/><text x="290" y="2751.5">...</text>
<rect class="f" x="286" y="2758" width="31" height="23"/><rect class="f" x="317" y="2758" width="52" height="23"/><rect class="f" x="369" y="2758" width="30" height="23"/>
<text x="290" y="2774.5">&lt; 1</text><text class="r" x="365" y="2774.5">0 rows</text><text class="r" x="395" y="2774.5">4 &gt;</text>
<rect class="o" x="286" y="2711" width="113" height="70"/>
</g>

<g id="rhnissmasterorgs">
<rect class="h" x="276" y="2808" width="133" height="24"/><text class="c" x="342.5" y="2824.5">rhnissmasterorgs</text>
<rect class="w" x="276" y="2832" width="133" height="23"/><text x="280" y="2848.5">...</text>
<rect class="f" x="276" y="2855" width="41" height="23"/><rect class="f" x="317" y="2855" width="52" height="23"/><rect class="f" x="369" y="2855" width="40" height="23"/>
<text x="280" y="2871.5">&lt; 2</text><text class="r" x="365" y="2871.5">0 rows</text>
<rect class="o" x="276" y="2808" width="133" height="70"/>
</g>

<g id="rhnissslaveorgs">
<rect class="h" x="280" y="2905" width="125" height="24"/><text class="c" x="342.5" y="2921.5">rhnissslaveorgs</text>
<rect class="w" x="280" y="2929" width="125" height="23"/><text x="284" y="2945.5">...</text>
<rect class="f" x="280" y="2952" width="37" height="23"/><rect class="f" x="317" y="2952" width="52" height="23"/><rect class="f" x="369" y="2952" width="36" height="23"/>
<text x="284" y="2968.5">&lt; 2</text><text class="r" x="365" y="2968.5">0 rows</text>
<rect class="o" x="280" y="2905" width="125" height="70"/>
</g>

<g id="rhnorgadminmanagement">
<rect class="h" x="254" y="3002" width="178" height="24"/><text class="c" x="343" y="3018.5">rhnorgadminmanagement</text>
<rect class="w" x="254" y="3026" width="178" height="23"/><text x="258" y="3042.5">...</text>
<rect class="f" x="254" y="3049" width="61" height="23"/><rect class="f" x="315" y="3049" width="58" height="23"/><rect class="f" x="373" y="3049" width="59" height="23"/>
<text x="258" y="3065.5">&lt; 1</text><text class="r" x="369" y="3065.5">1 row</text>
<rect class="o" x="254" y="3002" width="178" height="70"/>
</g>

<g id="rhnorgconfiguration">
<rect class="h" x="274" y="3100" width="138" height="24"/><text class="c" x="343" y="3116.5">rhnorgconfiguration</text>
<rect class="w" x="274" y="3124" width="138" height="23"/><text x="278" y="3140.5">...</text>
<rect class="f" x="274" y="3147" width="47" height="23"/><rect class="f" x="321" y="3147" width="45" height="23"/><rect class="f" x="366" y="3147" width="46" height="23"/>
<text x="278" y="3163.5">&lt; 1</text><text class="r" x="362" y="3163.5">1 row</text>
<rect class="o" x="274" y="3100" width="138" height="70"/>
</g>

<g id="rhnorgerratacachequeue">
<rect class="h" x="258" y="3197" width="170" height="24"/><text class="c" x="343" y="3213.5">rhnorgerratacachequeue</text>
<rect class="w" x="258" y="3221" width="170" height="23"/><text x="262" y="3237.5">...</text>
<rect class="f" x="258" y="3244" width="58" height="23"/><rect class="f" x="316" y="3244" width="56" height="23"/><rect class="f" x="372" y="3244" width="56" height="23"/>
<text x="262" y="3260.5">&lt; 1</text><text class="r" x="368" y="3260.5">0 rows</text>
<rect class="o" x="258" y="3197" width="170" height="70"/>
</g>

<g id="rhnpackage">
<rect class="h" x="282" y="3294" width="121" height="24"/><text class="c" x="342.5" y="3310.5">rhnpackage</text>
<rect class="w" x="282" y="3318" width="121" height="23"/><text x="286" y="3334.5">...</text>
<rect class="f" x="282" y="3341" width="31" height="23"/><rect class="f" x="313" y="3341" width="52" height="23"/><rect class="f" x="365" y="3341" width="38" height="23"/>
<text x="286" y="3357.5">&lt; 7</text><text class="r" x="361" y="3357.5">0 rows</text><text class="r" x="399" y="3357.5">21 &gt;</text>
<rect class="o" x="282" y="3294" width="121" height="70"/>
</g>

<g id="rhnpackagesource">
<rect class="h" x="273" y="3392" width="139" height="24"/><text class="c" x="342.5" y="3408.5">rhnpackagesource</text>
<rect class="w" x="273" y="3416" width="139" height="23"/><text x="277" y="3432.5">...</text>
<rect class="f" x="273" y="3439" width="44" height="23"/><rect class="f" x="317" y="3439" width="52" height="23"/><rect class="f" x="369" y="3439" width="43" height="23"/>
<text x="277" y="3455.5">&lt; 5</text><text class="r" x="365" y="3455.5">0 rows</text><text class="r" x="408" y="3455.5">1 &gt;</text>
<rect class="o" x="273" y="3392" width="139" height="70"/>
</g>

<g id="rhnpackagesyncblacklist">
<rect class="h" x="259" y="3489" width="167" height="24"/><text class="c" x="342.5" y="3505.5">rhnpackagesyncblacklist</text>
<rect class="w" x="259" y="3513" width="167" height="23"/><text x="263" y="3529.5">...</text>
<rect class="f" x="259" y="3536" width="57" height="23"/><rect class="f" x="316" y="3536" width="54" height="23"/><rect class="f" x="370" y="3536" width="56" height="23"/>
<text x="263" y="3552.5">&lt; 2</text><text class="r" x="366" y="3552.5">3 rows</text>
<rect class="o" x="259" y="3489" width="167" height="70"/>
</g>

<text x="16" y="3601">Generated by SchemaSpy</text>
</svg>
